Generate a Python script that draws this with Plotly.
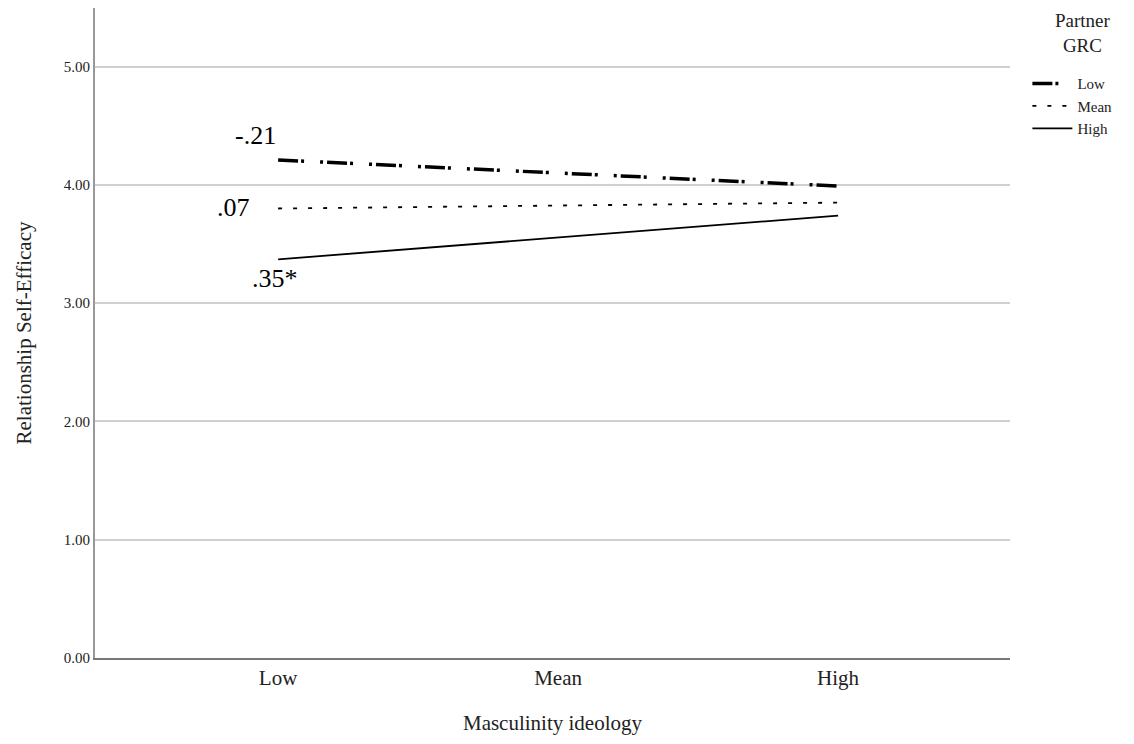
import plotly.graph_objects as go

categories = ["Low", "Mean", "High"]
series_names = ["Low", "Mean", "High"]
line_x = ["Low", "High"]
low_vals = [4.21, 3.99]
mean_vals = [3.80, 3.85]
high_vals = [3.37, 3.74]
slope_labels = ["-.21", ".07", ".35*"]
label_x = [-0.08, -0.16, -0.01]
label_y = [4.42, 3.81, 3.21]
y_ticks = [0, 1, 2, 3, 4, 5]
y_ticktext = ["0.00", "1.00", "2.00", "3.00", "4.00", "5.00"]

FONT = "Liberation Serif, Times New Roman, serif"

fig = go.Figure()
styles = [
    dict(color="black", width=3.5, dash="20px,3px,3px,16px,3px,4px"),
    dict(color="black", width=1.8, dash="4px,11px"),
    dict(color="black", width=1.8, dash="solid"),
]
for name, vals, st in zip(series_names, [low_vals, mean_vals, high_vals], styles):
    fig.add_trace(go.Scatter(x=line_x, y=vals, mode="lines", name=name, line=st))

for t, x, y in zip(slope_labels, label_x, label_y):
    fig.add_annotation(x=x, y=y, xref="x", yref="y", text=t, showarrow=False,
                       font=dict(family=FONT, size=26, color="black"))

fig.add_annotation(x=1.08, y=1.0, xref="paper", yref="paper", xanchor="center", yanchor="top",
                   text="Partner<br>GRC", showarrow=False, align="center",
                   font=dict(family=FONT, size=19, color="#222"))

fig.update_layout(
    width=1126, height=736,
    margin=dict(l=87, r=124, t=0, b=86),
    paper_bgcolor="white", plot_bgcolor="white",
    font=dict(family=FONT, color="#222"),
    showlegend=True,
    legend=dict(
        x=1.019, y=0.909, xanchor="left", yanchor="top",
        font=dict(family=FONT, size=15, color="#222"),
        tracegroupgap=0, itemwidth=40,
    ),
)
fig.update_xaxes(
    type="category", categoryorder="array", categoryarray=categories,
    range=[-0.654, 2.614], showgrid=False,
    showline=True, linecolor="#777", linewidth=2,
    ticks="", tickfont=dict(family=FONT, size=21, color="#222"),
    title=dict(text="Masculinity ideology", font=dict(family=FONT, size=21, color="#222"), standoff=26),
    zeroline=False,
)
fig.update_yaxes(
    range=[0, 5.495], tickvals=y_ticks, ticktext=y_ticktext,
    showgrid=True, gridcolor="#d0d0d0", gridwidth=2,
    showline=True, linecolor="#999", linewidth=2,
    ticks="", tickfont=dict(family=FONT, size=15, color="#222"),
    title=dict(text="Relationship Self-Efficacy", font=dict(family=FONT, size=21, color="#222"), standoff=26),
    zeroline=False,
)

fig.write_html("out.html")
